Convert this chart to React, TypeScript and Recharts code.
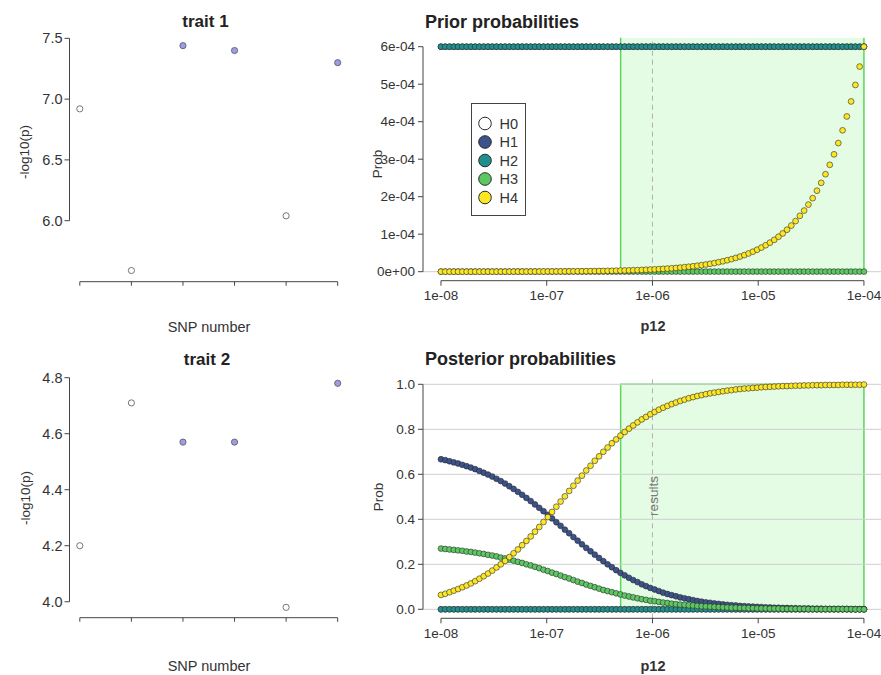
import React from 'react';
import { ScatterChart, Scatter, XAxis, YAxis, ReferenceLine, ReferenceArea, Legend } from 'recharts';

const FONT = '"Liberation Sans", Arial, Helvetica, sans-serif';

// ---------- SNP panels ----------
const snpNumbers = [1, 2, 3, 4, 5, 6];
const trait1LogP = [6.92, 5.59, 7.44, 7.40, 6.04, 7.30];
const trait2LogP = [4.20, 4.71, 4.57, 4.57, 3.98, 4.78];
const snpHighlighted = [false, false, true, true, false, true];
const trait1Ticks = [6.0, 6.5, 7.0, 7.5];
const trait1TickLabels = ['6.0', '6.5', '7.0', '7.5'];
const trait2Ticks = [4.0, 4.2, 4.4, 4.6, 4.8];
const trait2TickLabels = ['4.0', '4.2', '4.4', '4.6', '4.8'];

// ---------- p12 grid ----------
const p12 = [
  1.000e-8, 1.098e-8, 1.205e-8, 1.322e-8, 1.451e-8, 1.592e-8, 1.748e-8, 1.918e-8, 2.105e-8, 2.310e-8,
  2.535e-8, 2.783e-8, 3.054e-8, 3.352e-8, 3.678e-8, 4.037e-8, 4.431e-8, 4.863e-8, 5.337e-8, 5.857e-8,
  6.428e-8, 7.055e-8, 7.743e-8, 8.498e-8, 9.326e-8, 1.024e-7, 1.123e-7, 1.233e-7, 1.353e-7, 1.485e-7,
  1.630e-7, 1.789e-7, 1.963e-7, 2.154e-7, 2.365e-7, 2.595e-7, 2.848e-7, 3.126e-7, 3.431e-7, 3.765e-7,
  4.132e-7, 4.535e-7, 4.977e-7, 5.462e-7, 5.995e-7, 6.579e-7, 7.221e-7, 7.925e-7, 8.698e-7, 9.545e-7,
  1.048e-6, 1.150e-6, 1.262e-6, 1.385e-6, 1.520e-6, 1.668e-6, 1.831e-6, 2.009e-6, 2.205e-6, 2.420e-6,
  2.656e-6, 2.915e-6, 3.199e-6, 3.511e-6, 3.854e-6, 4.229e-6, 4.642e-6, 5.094e-6, 5.591e-6, 6.136e-6,
  6.734e-6, 7.391e-6, 8.111e-6, 8.902e-6, 9.770e-6, 1.072e-5, 1.177e-5, 1.292e-5, 1.418e-5, 1.556e-5,
  1.707e-5, 1.874e-5, 2.057e-5, 2.257e-5, 2.477e-5, 2.719e-5, 2.984e-5, 3.275e-5, 3.594e-5, 3.944e-5,
  4.329e-5, 4.751e-5, 5.214e-5, 5.722e-5, 6.280e-5, 6.893e-5, 7.565e-5, 8.302e-5, 9.112e-5, 1.000e-4,
];

// ---------- prior probabilities ----------
const priorH1 = [
  6e-4, 6e-4, 6e-4, 6e-4, 6e-4, 6e-4, 6e-4, 6e-4, 6e-4, 6e-4,
  6e-4, 6e-4, 6e-4, 6e-4, 6e-4, 6e-4, 6e-4, 6e-4, 6e-4, 6e-4,
  6e-4, 6e-4, 6e-4, 6e-4, 6e-4, 6e-4, 6e-4, 6e-4, 6e-4, 6e-4,
  6e-4, 6e-4, 6e-4, 6e-4, 6e-4, 6e-4, 6e-4, 6e-4, 6e-4, 6e-4,
  6e-4, 6e-4, 6e-4, 6e-4, 6e-4, 6e-4, 6e-4, 6e-4, 6e-4, 6e-4,
  6e-4, 6e-4, 6e-4, 6e-4, 6e-4, 6e-4, 6e-4, 6e-4, 6e-4, 6e-4,
  6e-4, 6e-4, 6e-4, 6e-4, 6e-4, 6e-4, 6e-4, 6e-4, 6e-4, 6e-4,
  6e-4, 6e-4, 6e-4, 6e-4, 6e-4, 6e-4, 6e-4, 6e-4, 6e-4, 6e-4,
  6e-4, 6e-4, 6e-4, 6e-4, 6e-4, 6e-4, 6e-4, 6e-4, 6e-4, 6e-4,
  6e-4, 6e-4, 6e-4, 6e-4, 6e-4, 6e-4, 6e-4, 6e-4, 6e-4, 6e-4,
];
const priorH2 = [
  6e-4, 6e-4, 6e-4, 6e-4, 6e-4, 6e-4, 6e-4, 6e-4, 6e-4, 6e-4,
  6e-4, 6e-4, 6e-4, 6e-4, 6e-4, 6e-4, 6e-4, 6e-4, 6e-4, 6e-4,
  6e-4, 6e-4, 6e-4, 6e-4, 6e-4, 6e-4, 6e-4, 6e-4, 6e-4, 6e-4,
  6e-4, 6e-4, 6e-4, 6e-4, 6e-4, 6e-4, 6e-4, 6e-4, 6e-4, 6e-4,
  6e-4, 6e-4, 6e-4, 6e-4, 6e-4, 6e-4, 6e-4, 6e-4, 6e-4, 6e-4,
  6e-4, 6e-4, 6e-4, 6e-4, 6e-4, 6e-4, 6e-4, 6e-4, 6e-4, 6e-4,
  6e-4, 6e-4, 6e-4, 6e-4, 6e-4, 6e-4, 6e-4, 6e-4, 6e-4, 6e-4,
  6e-4, 6e-4, 6e-4, 6e-4, 6e-4, 6e-4, 6e-4, 6e-4, 6e-4, 6e-4,
  6e-4, 6e-4, 6e-4, 6e-4, 6e-4, 6e-4, 6e-4, 6e-4, 6e-4, 6e-4,
  6e-4, 6e-4, 6e-4, 6e-4, 6e-4, 6e-4, 6e-4, 6e-4, 6e-4, 6e-4,
];
const priorH3 = [
  3e-7, 3e-7, 3e-7, 3e-7, 3e-7, 3e-7, 3e-7, 3e-7, 3e-7, 3e-7,
  3e-7, 3e-7, 3e-7, 3e-7, 3e-7, 3e-7, 3e-7, 3e-7, 3e-7, 3e-7,
  3e-7, 3e-7, 3e-7, 3e-7, 3e-7, 3e-7, 3e-7, 3e-7, 3e-7, 3e-7,
  3e-7, 3e-7, 3e-7, 3e-7, 3e-7, 3e-7, 3e-7, 3e-7, 3e-7, 3e-7,
  3e-7, 3e-7, 3e-7, 3e-7, 3e-7, 3e-7, 3e-7, 3e-7, 3e-7, 3e-7,
  3e-7, 3e-7, 3e-7, 3e-7, 3e-7, 3e-7, 3e-7, 3e-7, 3e-7, 3e-7,
  3e-7, 3e-7, 3e-7, 3e-7, 3e-7, 3e-7, 3e-7, 3e-7, 3e-7, 3e-7,
  3e-7, 3e-7, 3e-7, 3e-7, 3e-7, 3e-7, 3e-7, 3e-7, 3e-7, 3e-7,
  3e-7, 3e-7, 3e-7, 3e-7, 3e-7, 3e-7, 3e-7, 3e-7, 3e-7, 3e-7,
  3e-7, 3e-7, 3e-7, 3e-7, 3e-7, 3e-7, 3e-7, 3e-7, 3e-7, 3e-7,
];
const priorH4 = [
  6.00e-8, 6.59e-8, 7.23e-8, 7.93e-8, 8.70e-8, 9.55e-8, 1.05e-7, 1.15e-7, 1.26e-7, 1.39e-7,
  1.52e-7, 1.67e-7, 1.83e-7, 2.01e-7, 2.21e-7, 2.42e-7, 2.66e-7, 2.92e-7, 3.20e-7, 3.51e-7,
  3.86e-7, 4.23e-7, 4.65e-7, 5.10e-7, 5.60e-7, 6.14e-7, 6.74e-7, 7.40e-7, 8.12e-7, 8.91e-7,
  9.78e-7, 1.07e-6, 1.18e-6, 1.29e-6, 1.42e-6, 1.56e-6, 1.71e-6, 1.88e-6, 2.06e-6, 2.26e-6,
  2.48e-6, 2.72e-6, 2.99e-6, 3.28e-6, 3.60e-6, 3.95e-6, 4.33e-6, 4.75e-6, 5.22e-6, 5.73e-6,
  6.29e-6, 6.90e-6, 7.57e-6, 8.31e-6, 9.12e-6, 1.00e-5, 1.10e-5, 1.21e-5, 1.32e-5, 1.45e-5,
  1.59e-5, 1.75e-5, 1.92e-5, 2.11e-5, 2.31e-5, 2.54e-5, 2.78e-5, 3.06e-5, 3.35e-5, 3.68e-5,
  4.04e-5, 4.43e-5, 4.87e-5, 5.34e-5, 5.86e-5, 6.43e-5, 7.06e-5, 7.75e-5, 8.50e-5, 9.33e-5,
  1.02e-4, 1.12e-4, 1.23e-4, 1.35e-4, 1.49e-4, 1.63e-4, 1.79e-4, 1.96e-4, 2.16e-4, 2.37e-4,
  2.60e-4, 2.85e-4, 3.13e-4, 3.43e-4, 3.77e-4, 4.14e-4, 4.54e-4, 4.98e-4, 5.47e-4, 6.00e-4,
];
const priorTicks = [0, 0.0001, 0.0002, 0.0003, 0.0004, 0.0005, 0.0006];
const priorTickLabels = ['0e+00', '1e-04', '2e-04', '3e-04', '4e-04', '5e-04', '6e-04'];

// ---------- posterior probabilities ----------
const postH0 = [
  0, 0, 0, 0, 0, 0, 0, 0, 0, 0, 0, 0, 0, 0, 0, 0, 0, 0, 0, 0,
  0, 0, 0, 0, 0, 0, 0, 0, 0, 0, 0, 0, 0, 0, 0, 0, 0, 0, 0, 0,
  0, 0, 0, 0, 0, 0, 0, 0, 0, 0, 0, 0, 0, 0, 0, 0, 0, 0, 0, 0,
  0, 0, 0, 0, 0, 0, 0, 0, 0, 0, 0, 0, 0, 0, 0, 0, 0, 0, 0, 0,
  0, 0, 0, 0, 0, 0, 0, 0, 0, 0, 0, 0, 0, 0, 0, 0, 0, 0, 0, 0,
];
const postH1 = [
  0.667, 0.663, 0.658, 0.653, 0.648, 0.642, 0.636, 0.630, 0.623, 0.615,
  0.607, 0.599, 0.590, 0.580, 0.570, 0.559, 0.547, 0.535, 0.522, 0.509,
  0.495, 0.481, 0.466, 0.451, 0.436, 0.420, 0.404, 0.387, 0.371, 0.354,
  0.338, 0.321, 0.305, 0.289, 0.273, 0.258, 0.243, 0.228, 0.214, 0.200,
  0.187, 0.174, 0.162, 0.151, 0.140, 0.130, 0.121, 0.111, 0.103, 0.095,
  0.088, 0.081, 0.074, 0.068, 0.063, 0.058, 0.053, 0.049, 0.045, 0.041,
  0.037, 0.034, 0.031, 0.029, 0.026, 0.024, 0.022, 0.020, 0.018, 0.017,
  0.015, 0.014, 0.013, 0.012, 0.011, 0.010, 0.009, 0.008, 0.007, 0.007,
  0.006, 0.006, 0.005, 0.005, 0.004, 0.004, 0.004, 0.003, 0.003, 0.003,
  0.002, 0.002, 0.002, 0.002, 0.002, 0.002, 0.001, 0.001, 0.001, 0.001,
];
const postH2 = [
  0, 0, 0, 0, 0, 0, 0, 0, 0, 0, 0, 0, 0, 0, 0, 0, 0, 0, 0, 0,
  0, 0, 0, 0, 0, 0, 0, 0, 0, 0, 0, 0, 0, 0, 0, 0, 0, 0, 0, 0,
  0, 0, 0, 0, 0, 0, 0, 0, 0, 0, 0, 0, 0, 0, 0, 0, 0, 0, 0, 0,
  0, 0, 0, 0, 0, 0, 0, 0, 0, 0, 0, 0, 0, 0, 0, 0, 0, 0, 0, 0,
  0, 0, 0, 0, 0, 0, 0, 0, 0, 0, 0, 0, 0, 0, 0, 0, 0, 0, 0, 0,
];
const postH3 = [
  0.270, 0.268, 0.266, 0.264, 0.262, 0.260, 0.257, 0.255, 0.252, 0.249,
  0.246, 0.242, 0.239, 0.235, 0.230, 0.226, 0.221, 0.216, 0.211, 0.206,
  0.200, 0.195, 0.189, 0.183, 0.176, 0.170, 0.163, 0.157, 0.150, 0.143,
  0.137, 0.130, 0.123, 0.117, 0.110, 0.104, 0.098, 0.092, 0.086, 0.081,
  0.076, 0.071, 0.066, 0.061, 0.057, 0.053, 0.049, 0.045, 0.042, 0.038,
  0.036, 0.033, 0.030, 0.028, 0.025, 0.023, 0.021, 0.020, 0.018, 0.017,
  0.015, 0.014, 0.013, 0.012, 0.011, 0.010, 0.009, 0.008, 0.007, 0.007,
  0.006, 0.006, 0.005, 0.005, 0.004, 0.004, 0.004, 0.003, 0.003, 0.003,
  0.002, 0.002, 0.002, 0.002, 0.002, 0.002, 0.001, 0.001, 0.001, 0.001,
  0.001, 0.001, 0.001, 0.001, 0.001, 0.001, 0.001, 0.000, 0.000, 0.000,
];
const postH4 = [
  0.064, 0.069, 0.076, 0.083, 0.090, 0.098, 0.106, 0.115, 0.125, 0.136,
  0.147, 0.159, 0.172, 0.186, 0.200, 0.215, 0.232, 0.249, 0.266, 0.285,
  0.304, 0.324, 0.345, 0.366, 0.388, 0.410, 0.433, 0.456, 0.479, 0.502,
  0.526, 0.549, 0.572, 0.594, 0.617, 0.638, 0.660, 0.680, 0.700, 0.719,
  0.738, 0.755, 0.772, 0.788, 0.803, 0.817, 0.831, 0.844, 0.855, 0.867,
  0.877, 0.887, 0.896, 0.904, 0.912, 0.919, 0.926, 0.932, 0.938, 0.943,
  0.948, 0.952, 0.956, 0.960, 0.963, 0.966, 0.969, 0.972, 0.974, 0.977,
  0.979, 0.981, 0.982, 0.984, 0.985, 0.987, 0.988, 0.989, 0.990, 0.991,
  0.992, 0.992, 0.993, 0.994, 0.994, 0.995, 0.995, 0.996, 0.996, 0.996,
  0.997, 0.997, 0.997, 0.997, 0.998, 0.998, 0.998, 0.998, 0.998, 0.999,
];
const postTicks = [0, 0.2, 0.4, 0.6, 0.8, 1.0];
const postTickLabels = ['0.0', '0.2', '0.4', '0.6', '0.8', '1.0'];
const gridLevels = [0, 0.2, 0.4, 0.6, 0.8, 1.0];

const p12Ticks = [1e-8, 1e-7, 1e-6, 1e-5, 1e-4];
const p12TickLabels = ['1e-08', '1e-07', '1e-06', '1e-05', '1e-04'];
const credibleRange = [5e-7, 1e-4];
const resultsP12 = 1e-6;

const hypNames = ['H0', 'H1', 'H2', 'H3', 'H4'];
const hypColors = ['#ffffff', '#3b528b', '#21908c', '#5dc863', '#fde725'];

// ---------- styling ----------
const AXIS_COL = '#444';

type Pt = { x: number; y: number; hl?: boolean };
const pts = (xs: number[], ys: number[]): Pt[] => xs.map((x, i) => ({ x, y: ys[i] }));

const labelFor = (ticks: number[], labels: string[]) => (v: number) => {
  let best = 0;
  for (let i = 1; i < ticks.length; i++) if (Math.abs(ticks[i] - v) < Math.abs(ticks[best] - v)) best = i;
  return labels[best];
};

// custom tick renderer so that the font size is exactly controlled
const makeTick = (fmt: (v: number) => string, size: number, axis: 'x' | 'y') => (props: any) => {
  const { x, y, payload } = props;
  if (axis === 'x') {
    return (
      <text x={x} y={y} dy="0.71em" textAnchor="middle" fontSize={size} fontFamily={FONT} fill="#333">
        {fmt(payload.value)}
      </text>
    );
  }
  return (
    <text x={x} y={y} dy="0.355em" textAnchor="end" fontSize={size} fontFamily={FONT} fill="#333">
      {fmt(payload.value)}
    </text>
  );
};

const hypDot = (color: string) => (props: any) => {
  const { cx, cy } = props;
  if (cx == null || cy == null) return <g />;
  return <circle cx={cx} cy={cy} r={2.9} fill={color} stroke="#2a2a2a" strokeWidth={0.6} />;
};

const snpDot = (props: any) => {
  const { cx, cy, payload } = props;
  if (cx == null || cy == null) return <g />;
  return (
    <circle cx={cx} cy={cy} r={3.1} fill={payload && payload.hl ? '#9d9de6' : '#ffffff'} stroke="#555" strokeWidth={0.8} />
  );
};

function SnpPanel(props: {
  values: number[]; ticks: number[]; tickLabels: string[]; yDomain: [number, number];
  height: number; plotTop: number; plotBottom: number;
}) {
  const { values, ticks, tickLabels, yDomain, height, plotTop, plotBottom } = props;
  const data = snpNumbers.map((s, i) => ({ x: s, y: values[i], hl: snpHighlighted[i] }));
  const xDomain: [number, number] = [0.8, 6.2];
  return (
    <ScatterChart width={360} height={height}
      margin={{ top: plotTop, right: 12, bottom: height - plotBottom - 40, left: 0 }}>
      <XAxis type="number" dataKey="x" domain={xDomain} ticks={snpNumbers} allowDataOverflow
        axisLine={false} tickLine={{ stroke: AXIS_COL }} tickSize={4} height={40}
        tickFormatter={() => ''} />
      <YAxis type="number" dataKey="y" domain={yDomain} ticks={ticks} allowDataOverflow
        axisLine={false} tickLine={{ stroke: AXIS_COL }} tickSize={5} tickMargin={2} width={69.5}
        tick={makeTick(labelFor(ticks, tickLabels), 14.5, 'y')} />
      <ReferenceLine ifOverflow="visible" stroke={AXIS_COL}
        segment={[{ x: xDomain[0], y: ticks[0] }, { x: xDomain[0], y: ticks[ticks.length - 1] }]} />
      <ReferenceLine ifOverflow="visible" stroke={AXIS_COL}
        segment={[{ x: snpNumbers[0], y: yDomain[0] }, { x: snpNumbers[snpNumbers.length - 1], y: yDomain[0] }]} />
      <Scatter data={data} shape={snpDot} isAnimationActive={false} />
    </ScatterChart>
  );
}

const X_DOMAIN: [number, number] = [6.76e-9, 1.45e-4];

function LegendBox() {
  return (
    <div style={{ width: 55, height: 113, border: '1px solid #444', background: '#fff', boxSizing: 'border-box' }}>
      <svg width={53} height={111} style={{ display: 'block' }}>
        {hypNames.map((n, i) => (
          <g key={n}>
            <circle cx={13} cy={19.5 + i * 18.5} r={6.3} fill={hypColors[i]} stroke="#2a2a2a" strokeWidth={1} />
            <text x={27.5} y={19.5 + i * 18.5} dy="0.36em" fontSize={14.5} fill="#333" fontFamily={FONT}>{n}</text>
          </g>
        ))}
      </svg>
    </div>
  );
}

function ProbPanel(props: {
  series: number[][]; yDomain: [number, number]; ticks: number[]; tickLabels: string[];
  height: number; plotTop: number; plotBottom: number; prior: boolean;
}) {
  const { series, yDomain, ticks, tickLabels, height, plotTop, plotBottom, prior } = props;
  const yTop = ticks[ticks.length - 1];
  return (
    <ScatterChart width={521} height={height}
      margin={{ top: plotTop, right: 0, bottom: height - plotBottom - 40, left: 0 }}>
      <XAxis type="number" dataKey="x" scale="log" domain={X_DOMAIN} ticks={p12Ticks} allowDataOverflow
        axisLine={false} tickLine={{ stroke: AXIS_COL }} tickSize={5} tickMargin={5} height={40}
        tick={makeTick(labelFor(p12Ticks, p12TickLabels), 13.5, 'x')} interval={0} />
      <YAxis type="number" dataKey="y" domain={yDomain} ticks={ticks} allowDataOverflow
        axisLine={false} tickLine={{ stroke: AXIS_COL }} tickSize={5} tickMargin={3} width={63}
        tick={makeTick(labelFor(ticks, tickLabels), 13.5, 'y')} interval={0} />
      {prior ? (
        <ReferenceArea x1={credibleRange[0]} x2={credibleRange[1]} y1={0} y2={yDomain[1]}
          fill="#e4fbe4" fillOpacity={1} stroke="none" ifOverflow="hidden" />
      ) : (
        <ReferenceArea x1={credibleRange[0]} x2={credibleRange[1]} y1={0} y2={1}
          fill="#e4fbe4" fillOpacity={1} stroke="#5ad65a" strokeWidth={1.5} ifOverflow="hidden" />
      )}
      {prior && credibleRange.map((cx) => (
        <ReferenceLine key={cx} ifOverflow="visible" stroke="#5ad65a" strokeWidth={1.5}
          segment={[{ x: cx, y: 0 }, { x: cx, y: yDomain[1] }]} />
      ))}
      {gridLevels.filter((g) => g >= yDomain[0] && g <= yDomain[1]).map((g) => (
        <ReferenceLine key={'g' + g} y={g} stroke="#cfcfcf" strokeWidth={1} />
      ))}
      <ReferenceLine x={resultsP12} stroke="#b0b0b0" strokeDasharray="5 4" strokeWidth={1} />
      <ReferenceLine ifOverflow="visible" stroke={AXIS_COL}
        segment={[{ x: X_DOMAIN[0], y: 0 }, { x: X_DOMAIN[0], y: yTop }]} />
      <ReferenceLine ifOverflow="visible" stroke={AXIS_COL}
        segment={[{ x: p12Ticks[0], y: yDomain[0] }, { x: p12Ticks[p12Ticks.length - 1], y: yDomain[0] }]} />
      {series.map((ys, i) =>
        ys ? (
          <Scatter key={hypNames[i]} name={hypNames[i]} data={pts(p12, ys)} shape={hypDot(hypColors[i])}
            isAnimationActive={false} />
        ) : null
      )}
      {prior && (
        <Legend layout="vertical" align="center" verticalAlign="middle" content={() => <LegendBox />}
          wrapperStyle={{ left: 110.5, top: 102.5, width: 55, height: 113 }} />
      )}
    </ScatterChart>
  );
}

const txt = { fontFamily: FONT, fill: '#222' } as const;

export default function App() {
  return (
    <div style={{ position: 'absolute', left: 0, top: 0, width: 881, height: 675, background: '#fff', overflow: 'hidden' }}>
      <div style={{ position: 'absolute', left: 0, top: 0 }}>
        <SnpPanel values={trait1LogP} ticks={trait1Ticks} tickLabels={trait1TickLabels}
          yDomain={[5.498, 7.511]} height={340} plotTop={37} plotBottom={281.7} />
      </div>
      <div style={{ position: 'absolute', left: 0, top: 340 }}>
        <SnpPanel values={trait2LogP} ticks={trait2Ticks} tickLabels={trait2TickLabels}
          yDomain={[3.943, 4.81]} height={335} plotTop={34.9} plotBottom={277.7} />
      </div>
      <div style={{ position: 'absolute', left: 360, top: 0 }}>
        <ProbPanel series={[null as any, priorH1, priorH2, priorH3, priorH4]} yDomain={[-0.000024, 0.000624]}
          ticks={priorTicks} tickLabels={priorTickLabels} height={340} plotTop={37.7} plotBottom={280.7} prior />
      </div>
      <div style={{ position: 'absolute', left: 360, top: 340 }}>
        <ProbPanel series={[postH0, postH1, postH2, postH3, postH4]} yDomain={[-0.04, 1.04]}
          ticks={postTicks} tickLabels={postTickLabels} height={335} plotTop={35.3} plotBottom={278.3} prior={false} />
      </div>
      <svg width={881} height={675} style={{ position: 'absolute', left: 0, top: 0, pointerEvents: 'none' }}>
        <text x={205.5} y={26.5} textAnchor="middle" fontSize={17} fontWeight="bold" {...txt}>trait 1</text>
        <text x={207} y={365} textAnchor="middle" fontSize={17} fontWeight="bold" {...txt}>trait 2</text>
        <text x={425} y={28} fontSize={18} fontWeight="bold" {...txt}>Prior probabilities</text>
        <text x={425} y={365} fontSize={18} fontWeight="bold" {...txt}>Posterior probabilities</text>
        <text x={209} y={332} textAnchor="middle" fontSize={14.5} {...txt} fill="#333">SNP number</text>
        <text x={209} y={671} textAnchor="middle" fontSize={14.5} {...txt} fill="#333">SNP number</text>
        <text x={653} y={331} textAnchor="middle" fontSize={14.5} fontWeight="bold" {...txt} fill="#333">p12</text>
        <text x={653} y={671} textAnchor="middle" fontSize={14.5} fontWeight="bold" {...txt} fill="#333">p12</text>
        <text transform="translate(29,152) rotate(-90)" textAnchor="middle" fontSize={13.5} {...txt} fill="#333">-log10(p)</text>
        <text transform="translate(30,498) rotate(-90)" textAnchor="middle" fontSize={13.5} {...txt} fill="#333">-log10(p)</text>
        <text transform="translate(382,164) rotate(-90)" textAnchor="middle" fontSize={13.5} {...txt} fill="#333">Prob</text>
        <text transform="translate(383,497) rotate(-90)" textAnchor="middle" fontSize={13.5} {...txt} fill="#333">Prob</text>
        <text transform="translate(658,496) rotate(-90)" textAnchor="middle" fontSize={13.5} fontFamily={FONT} fill="#7a7a7a">results</text>
      </svg>
    </div>
  );
}
